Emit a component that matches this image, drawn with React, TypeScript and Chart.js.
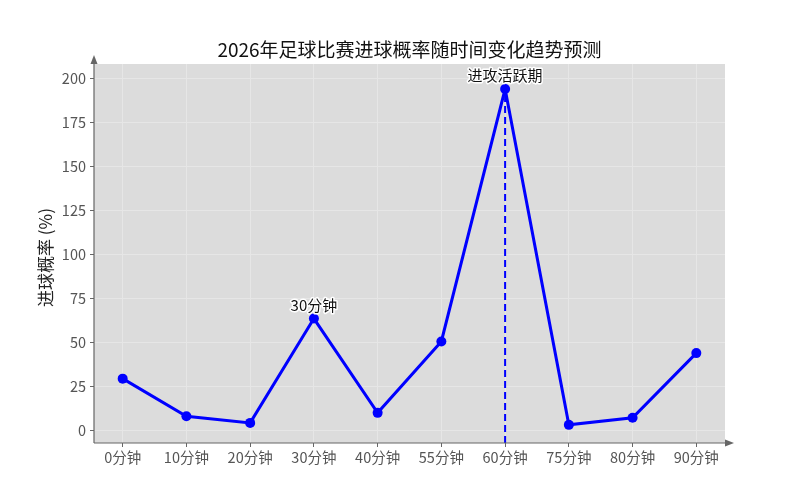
import React, { useEffect, useRef } from "react";
import { Chart, registerables } from "chart.js";

Chart.register(...registerables);

const categories = ["0分钟", "10分钟", "20分钟", "30分钟", "40分钟", "55分钟", "60分钟", "75分钟", "80分钟", "90分钟"];
const goalProb = [29.5, 8.2, 4.4, 63.6, 10.1, 50.6, 193.8, 3.3, 7.3, 44.0];
const yTicks = [0, 25, 50, 75, 100, 125, 150, 175, 200];
const titleText = "2026年足球比赛进球概率随时间变化趋势预测";
const yLabel = "进球概率 (%)";
const annotations = [
  { index: 3, text: "30分钟" },
  { index: 6, text: "进攻活跃期" },
];
const peakIndex = 6;

const FONT = '"Noto Sans CJK SC", "Noto Sans", sans-serif';

const decorPlugin = {
  id: "decor",
  beforeDraw(chart: any) {
    const { ctx, chartArea } = chart;
    ctx.save();
    ctx.fillStyle = "#ffffff";
    ctx.fillRect(0, 0, chart.width, chart.height);
    ctx.fillStyle = "#dcdcdc";
    ctx.fillRect(chartArea.left, chartArea.top, chartArea.right - chartArea.left, chartArea.bottom - chartArea.top);
    ctx.restore();
  },
  beforeDatasetsDraw(chart: any) {
    const { ctx, chartArea, scales } = chart;
    const x = scales.x.getPixelForValue(peakIndex);
    const y = scales.y.getPixelForValue(goalProb[peakIndex]);
    ctx.save();
    ctx.strokeStyle = "#0000ff";
    ctx.lineWidth = 2;
    ctx.setLineDash([7, 4]);
    ctx.beginPath();
    ctx.moveTo(x, chartArea.bottom);
    ctx.lineTo(x, y);
    ctx.stroke();
    ctx.restore();
  },
  afterDraw(chart: any) {
    const { ctx, chartArea, scales } = chart;
    ctx.save();
    ctx.strokeStyle = "#666666";
    ctx.fillStyle = "#666666";
    ctx.lineWidth = 1.2;
    ctx.beginPath();
    ctx.moveTo(chartArea.left, chartArea.bottom);
    ctx.lineTo(chartArea.left, chartArea.top - 4);
    ctx.moveTo(chartArea.left, chartArea.bottom);
    ctx.lineTo(chartArea.right + 4, chartArea.bottom);
    ctx.stroke();
    ctx.beginPath();
    ctx.moveTo(chartArea.left, chartArea.top - 9);
    ctx.lineTo(chartArea.left - 3.5, chartArea.top);
    ctx.lineTo(chartArea.left + 3.5, chartArea.top);
    ctx.closePath();
    ctx.fill();
    ctx.beginPath();
    ctx.moveTo(chartArea.right + 9, chartArea.bottom);
    ctx.lineTo(chartArea.right, chartArea.bottom - 3.5);
    ctx.lineTo(chartArea.right, chartArea.bottom + 3.5);
    ctx.closePath();
    ctx.fill();

    ctx.fillStyle = "#111111";
    ctx.font = `19px ${FONT}`;
    ctx.textAlign = "center";
    ctx.textBaseline = "alphabetic";
    ctx.fillText(titleText, (chartArea.left + chartArea.right) / 2, 57);

    ctx.save();
    ctx.translate(46, (chartArea.top + chartArea.bottom) / 2 + 4);
    ctx.rotate(-Math.PI / 2);
    ctx.font = `17px ${FONT}`;
    ctx.textBaseline = "middle";
    ctx.fillStyle = "#222222";
    ctx.fillText(yLabel, 0, 0);
    ctx.restore();

    ctx.font = `15px ${FONT}`;
    ctx.textAlign = "center";
    ctx.textBaseline = "bottom";
    ctx.lineJoin = "round";
    for (const a of annotations) {
      const px = scales.x.getPixelForValue(a.index);
      const py = scales.y.getPixelForValue(goalProb[a.index]) - 6;
      ctx.strokeStyle = "#ffffff";
      ctx.lineWidth = 3;
      ctx.strokeText(a.text, px, py);
      ctx.fillStyle = "#111111";
      ctx.fillText(a.text, px, py);
    }
    ctx.restore();
  },
};

export default function App() {
  const ref = useRef<HTMLCanvasElement | null>(null);
  useEffect(() => {
    document.body.style.margin = "0";
    const canvas = ref.current;
    if (!canvas) return;
    const chart = new Chart(canvas, {
      type: "line",
      data: {
        datasets: [
          {
            data: goalProb.map((v, i) => ({ x: i, y: v })),
            borderColor: "#0000ff",
            backgroundColor: "#0000ff",
            borderWidth: 3,
            pointRadius: 5,
            pointHoverRadius: 5,
            pointBackgroundColor: "#0000ff",
            pointBorderWidth: 0,
            tension: 0,
          },
        ],
      },
      options: {
        animation: false,
        responsive: false,
        devicePixelRatio: 1,
        layout: { padding: { top: 64, right: 75, left: 0, bottom: 0 } },
        plugins: { legend: { display: false }, title: { display: false }, tooltip: { enabled: false } },
        scales: {
          x: {
            type: "linear",
            min: -0.45,
            max: 9.45,
            afterBuildTicks: (scale: any) => {
              scale.ticks = categories.map((_, i) => ({ value: i }));
            },
            afterFit: (scale: any) => {
              scale.height = 56;
            },
            ticks: {
              autoSkip: false,
              maxRotation: 0,
              color: "#555555",
              font: { family: FONT, size: 14.5 },
              padding: 2,
              callback: (v: any) => categories[Math.round(Number(v))] ?? "",
            },
            grid: { color: "#e6e6e6", lineWidth: 1, drawTicks: true, tickLength: 4, tickColor: "#666666" },
            border: { display: false },
          },
          y: {
            type: "linear",
            min: -7,
            max: 208,
            afterBuildTicks: (scale: any) => {
              scale.ticks = yTicks.map((v) => ({ value: v }));
            },
            afterFit: (scale: any) => {
              scale.width = 94;
            },
            ticks: {
              color: "#555555",
              font: { family: FONT, size: 14.5 },
              padding: 4,
            },
            grid: { color: "#e6e6e6", lineWidth: 1, drawTicks: true, tickLength: 4, tickColor: "#666666" },
            border: { display: false },
          },
        },
      },
      plugins: [decorPlugin],
    } as any);
    return () => chart.destroy();
  }, []);
  return <canvas ref={ref} width={800} height={499} style={{ display: "block" }} />;
}
